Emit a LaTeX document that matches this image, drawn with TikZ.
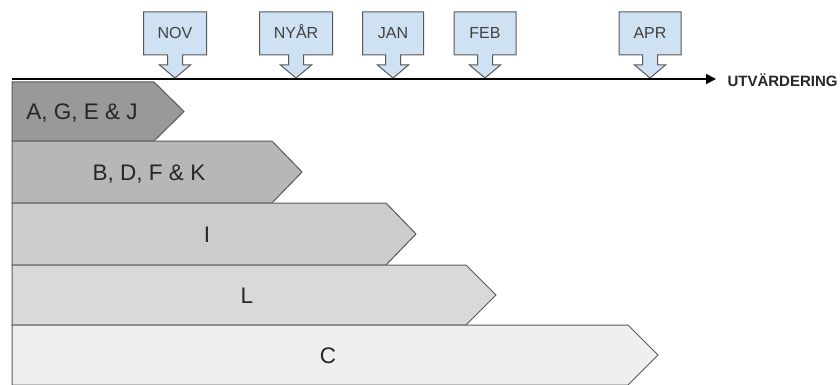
\documentclass[tikz,border=0pt]{standalone}
\usepackage{fontspec}
\setmainfont{Liberation Sans}
\usetikzlibrary{arrows.meta}

\definecolor{calloutblue}{HTML}{CFE2F3}
\definecolor{edgegray}{HTML}{595959}
\definecolor{grayA}{HTML}{999999}
\definecolor{grayB}{HTML}{B7B7B7}
\definecolor{grayC}{HTML}{CCCCCC}
\definecolor{grayD}{HTML}{D9D9D9}
\definecolor{grayE}{HTML}{EFEFEF}

\tikzset{
  monthlabel/.style={anchor=base, font=\fontsize{16}{16}\selectfont, text=black!75},
  barlabel/.style={anchor=base, font=\fontsize{22.5}{22.5}\selectfont, text=black!85},
  barshape/.style={draw=edgegray, line width=1pt},
  monthshape/.style={draw=edgegray, fill=calloutblue, line width=1pt}
}

\begin{document}
\begin{tikzpicture}[x=1pt, y=-1pt]
  \useasboundingbox (0,0) rectangle (840,385);

  % month markers
  \foreach \tx/\w/\lbl/\nm in {175/31.5/NOV/nov, 296/36.5/NYÅR/nyar, 393/30.5/JAN/jan,
                               485/31/FEB/feb, 650/31/APR/apr}{
    \draw[monthshape] (\tx-\w,12) -- (\tx+\w,12) -- (\tx+\w,55) -- (\tx+7.5,55)
      -- (\tx+7.5,65) -- (\tx+15.5,65) -- (\tx,78) -- (\tx-15.5,65) -- (\tx-7.5,65)
      -- (\tx-7.5,55) -- (\tx-\w,55) -- cycle;
    \node[monthlabel] (\nm) at (\tx,39) {\lbl};
  }

  % time axis
  \coordinate (start) at (12,79);
  \coordinate (end) at (716,79);
  \draw[line width=1.6pt, -{Triangle[length=10pt,width=10pt]}] (start) -- (end);
  \node[anchor=base west, font=\bfseries\fontsize{15}{15}\selectfont, text=black!85]
    (utv) at (724,86.5) {UTVÄRDERING};

  % groups
  \foreach \top/\bot/\rr/\fc/\lx/\lbl/\nm in {82/141/154/grayA/82/{A, G, E \& J}/agej,
                                          141/203/272/grayB/149/{B, D, F \& K}/bdfk,
                                          203/265/386/grayC/207/I/i,
                                          265/325/466/grayD/247/L/l,
                                          325/385/628/grayE/328/C/c}{
    \draw[barshape, fill=\fc] (12,\top) -- (\rr,\top) -- (\rr+30,{(\top+\bot)/2})
      -- (\rr,\bot) -- (12,\bot) -- cycle;
    \node[barlabel] (\nm) at (\lx,{(\top+\bot)/2+8}) {\lbl};
  }
\end{tikzpicture}
\end{document}
